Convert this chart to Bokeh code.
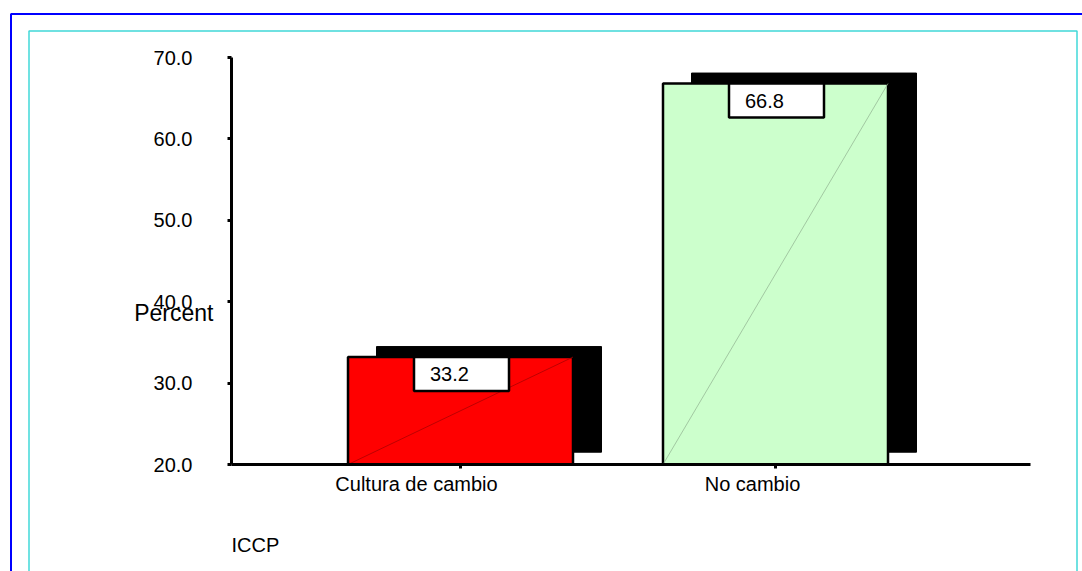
from bokeh.plotting import figure
from bokeh.models import (FixedTicker, PrintfTickFormatter, Range1d, LinearAxis,
                          ColumnDataSource)
from bokeh.core.properties import value
from bokeh.embed import file_html
from bokeh.resources import INLINE

# ---------------- data ----------------
categories = ["Cultura de cambio", "No cambio"]
percents = [33.2, 66.8]
value_labels = ["33.2", "66.8"]
bar_colors = ["#FF0000", "#CCFFCC"]
diag_colors = ["#A00000", "#8FB08F"]
y_ticks = [20, 30, 40, 50, 60, 70]
y_title = "Percent"
x_title = "ICCP"

# ---------------- layout constants (screen px) ----------------
W, H = 1082, 571
AX_L, AX_R, AX_T, AX_B = 231, 1030, 57, 464   # axis box on screen
C1_PX = 460                                  # centre of first category
PPU_X = 315                                  # px per category step
Y0, Y1 = 20, 70
PPU_Y = (AX_B - AX_T) / (Y1 - Y0)
FONT = "Liberation Sans"


def xd(px):   # screen x -> data x
    return 1 + (px - C1_PX) / PPU_X


def yd(py):   # screen y -> data y
    return Y0 + (AX_B - py) / PPU_Y


def wx(px):
    return px / PPU_X


def hy(px):
    return px / PPU_Y


BAR_W = wx(225)
SH_DX, SH_DY, SH_BOTTOM = wx(28.5), hy(10.5), Y0 + hy(12.3)

xs = [i + 1 for i in range(len(categories))]
lefts = [x - BAR_W / 2 for x in xs]
rights = [x + BAR_W / 2 for x in xs]

src = ColumnDataSource(dict(
    x=xs, top=percents, left=lefts, right=rights, color=bar_colors,
    diag=diag_colors, label=value_labels,
    sh_left=[l + SH_DX for l in lefts], sh_right=[r + SH_DX for r in rights],
    sh_top=[v + SH_DY for v in percents],
    box_x=[l + wx(66 + 47.5) for l in lefts],
    box_y=[v - hy(17) for v in percents],
    txt_x=[l + wx(66 + 16) for l in lefts],
    bottom=[Y0] * len(xs), sh_bottom=[SH_BOTTOM] * len(xs),
))

p = figure(width=W, height=H, x_range=Range1d(xd(0), xd(W)),
           y_range=Range1d(yd(H), yd(0)), output_backend="svg",
           toolbar_location=None, x_axis_location=None, y_axis_location=None,
           min_border=0)
p.min_border_left = p.min_border_right = p.min_border_top = p.min_border_bottom = 0
p.grid.visible = False
p.outline_line_color = None
p.background_fill_color = "white"
p.border_fill_color = "white"

# frame borders (blue outer, turquoise inner)
p.quad(left=[xd(10.5)], right=[xd(W + 30)], top=[yd(13.5)], bottom=[yd(H + 30)],
       fill_color=None, line_color="#0000FF", line_width=2)
p.quad(left=[xd(28.5)], right=[xd(1076.5)], top=[yd(30.5)], bottom=[yd(H + 30)],
       fill_color=None, line_color="#40D8D8", line_width=1.5)

# shadows, bars
p.quad(left="sh_left", right="sh_right", top="sh_top", bottom="sh_bottom",
       source=src, fill_color="black", line_color="black")
p.quad(left="left", right="right", top="top", bottom="bottom", source=src,
       fill_color="color", line_color="black", line_width=2.5)
p.segment(x0="left", y0="bottom", x1="right", y1="top", source=src,
          line_color="diag", line_width=0.7)
# value label boxes
p.rect(x="box_x", y="box_y", width=95, height=34, width_units="screen",
       height_units="screen", source=src, fill_color="white",
       line_color="black", line_width=2.5)
p.text(x="txt_x", y="box_y", text="label", source=src, text_align="left",
       text_baseline="middle", text_font=value(FONT), text_font_size="20px",
       text_color="black")

# y axis
ya = LinearAxis(fixed_location=xd(AX_L), bounds=(Y0, Y1))
ya.ticker = FixedTicker(ticks=y_ticks)
ya.formatter = PrintfTickFormatter(format="%.1f")
ya.axis_line_width = 3
ya.major_tick_line_width = 3
ya.major_tick_out = 4
ya.major_tick_in = 0
ya.minor_tick_out = 0
ya.minor_tick_in = 0
ya.major_label_standoff = 35
ya.major_label_text_font = FONT
ya.major_label_text_font_size = "20px"
ya.major_label_text_color = "black"
p.add_layout(ya, "left")

# x axis (line + tick marks at bar centres)
xa = LinearAxis(fixed_location=Y0, bounds=(xd(AX_L), xd(AX_R)))
xa.ticker = FixedTicker(ticks=xs)
xa.major_label_overrides = {x: "" for x in xs}
xa.axis_line_width = 3
xa.major_tick_line_width = 3
xa.major_tick_out = 4
xa.major_tick_in = 0
xa.minor_tick_out = 0
xa.minor_tick_in = 0
p.add_layout(xa, "below")

# category names (their own axis, offset from the bar centres)
name_offsets = [-44, -23]
name_pos = [x + wx(o) for x, o in zip(xs, name_offsets)]
xn = LinearAxis(fixed_location=Y0)
xn.ticker = FixedTicker(ticks=name_pos)
xn.major_label_overrides = {pos: name for pos, name in zip(name_pos, categories)}
xn.axis_line_color = None
xn.major_tick_line_color = None
xn.minor_tick_line_color = None
xn.major_tick_out = 0
xn.major_tick_in = 0
xn.major_label_standoff = 8
xn.major_label_text_font = FONT
xn.major_label_text_font_size = "20px"
xn.major_label_text_color = "black"
p.add_layout(xn, "below")

# titles
p.text(x=[xd(213)], y=[yd(312)], text=[y_title], text_align="right",
       text_baseline="middle", text_font=value(FONT), text_font_size="23px",
       text_color="black")
p.text(x=[xd(AX_L)], y=[yd(544)], text=[x_title], text_align="left",
       text_baseline="alphabetic", text_font=value(FONT), text_font_size="20px",
       text_color="black")

open("out.html", "w").write(file_html(p, INLINE))
